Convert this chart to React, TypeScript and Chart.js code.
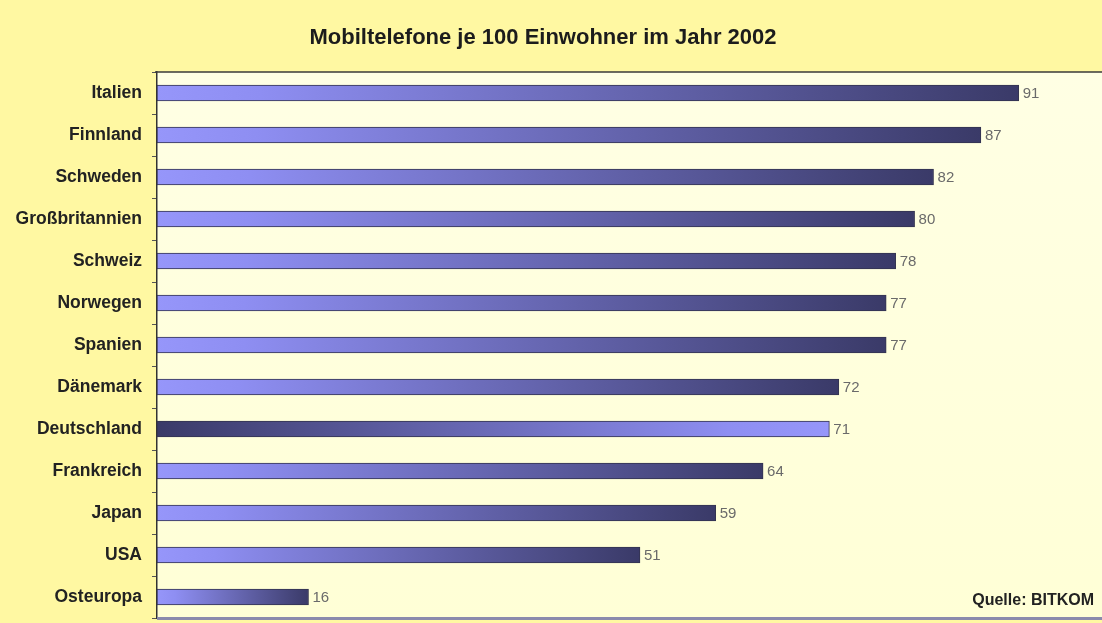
import React, { useEffect, useRef } from "react";
import { Chart, registerables } from "chart.js";

Chart.register(...registerables);

const categories = [
  "Italien",
  "Finnland",
  "Schweden",
  "Großbritannien",
  "Schweiz",
  "Norwegen",
  "Spanien",
  "Dänemark",
  "Deutschland",
  "Frankreich",
  "Japan",
  "USA",
  "Osteuropa",
];
const values = [91, 87, 82, 80, 78, 77, 77, 72, 71, 64, 59, 51, 16];
const highlighted = ["Deutschland"];
const titleText = "Mobiltelefone je 100 Einwohner im Jahr 2002";
const sourceText = "Quelle: BITKOM";

const FONT = "'Liberation Sans', Arial, sans-serif";
const OUTER_BG = "#FFF8A2";
const INNER_BG = "#FFFFD6";
const LIGHT = "#9696FA";
const DARK = "#3A3A68";

export default function App() {
  const ref = useRef<HTMLCanvasElement | null>(null);

  useEffect(() => {
    if (!ref.current) return;

    const decor = {
      id: "decor",
      beforeDraw(chart: any) {
        const { ctx, chartArea, width, height } = chart;
        ctx.save();
        ctx.fillStyle = OUTER_BG;
        ctx.fillRect(0, 0, width, height);
        const g = ctx.createLinearGradient(0, chartArea.top, 0, chartArea.bottom);
        g.addColorStop(0, "#FFFFE4");
        g.addColorStop(1, INNER_BG);
        ctx.fillStyle = g;
        ctx.fillRect(chartArea.left, chartArea.top, chartArea.right - chartArea.left, chartArea.bottom - chartArea.top);
        // title
        ctx.fillStyle = "#1c1c1c";
        ctx.font = `bold 22px ${FONT}`;
        ctx.textAlign = "center";
        ctx.textBaseline = "middle";
        ctx.fillText(titleText, 543, 38);
        ctx.restore();
      },
      afterDatasetsDraw(chart: any) {
        const { ctx, chartArea } = chart;
        const meta = chart.getDatasetMeta(0);
        ctx.save();
        ctx.font = `15px ${FONT}`;
        ctx.fillStyle = "#6a6a6a";
        ctx.textAlign = "left";
        ctx.textBaseline = "middle";
        meta.data.forEach((el: any, i: number) => {
          ctx.fillText(String(values[i]), el.x + 4, el.y + 1);
        });
        // top border
        ctx.strokeStyle = "#3a3a3a";
        ctx.lineWidth = 1.5;
        ctx.beginPath();
        ctx.moveTo(chartArea.left - 2, chartArea.top);
        ctx.lineTo(chartArea.right, chartArea.top);
        ctx.stroke();
        // bottom border
        ctx.strokeStyle = "#8a8aac";
        ctx.lineWidth = 3;
        ctx.beginPath();
        ctx.moveTo(chartArea.left, chartArea.bottom + 0.5);
        ctx.lineTo(chartArea.right, chartArea.bottom + 0.5);
        ctx.stroke();
        // source
        ctx.font = `bold 16px ${FONT}`;
        ctx.fillStyle = "#222";
        ctx.textAlign = "right";
        ctx.fillText(sourceText, 1094, 601);
        ctx.restore();
      },
    };

    const chart = new Chart(ref.current, {
      type: "bar",
      data: {
        labels: categories,
        datasets: [
          {
            data: values,
            barThickness: 16,
            borderWidth: 1,
            borderColor: "#33334f",
            borderSkipped: false,
            backgroundColor: (c: any) => {
              const ch = c.chart;
              const xs = ch.scales && ch.scales.x;
              if (!ch.chartArea || !xs) return LIGHT;
              const i = c.dataIndex;
              const x0 = xs.getPixelForValue(0);
              const x1 = xs.getPixelForValue(values[i]);
              const g = ch.ctx.createLinearGradient(x0, 0, x1, 0);
              if (highlighted.includes(categories[i])) {
                g.addColorStop(0, DARK);
                g.addColorStop(0.85, "#8E8EF2");
                g.addColorStop(1, LIGHT);
              } else {
                g.addColorStop(0, LIGHT);
                g.addColorStop(0.12, "#8E8EF2");
                g.addColorStop(1, DARK);
              }
              return g;
            },
          },
        ],
      },
      options: {
        indexAxis: "y",
        responsive: true,
        maintainAspectRatio: false,
        animation: false,
        devicePixelRatio: 1,
        layout: { padding: { top: 72, bottom: 5, left: 0, right: 2 } },
        plugins: {
          legend: { display: false },
          tooltip: { enabled: false },
          title: { display: false },
        },
        scales: {
          x: {
            display: false,
            min: 0,
            max: 100,
          },
          y: {
            afterFit: (s: any) => {
              s.width = 157;
              s.paddingTop = 0;
              s.paddingBottom = 0;
            },
            grid: {
              display: true,
              drawOnChartArea: false,
              drawTicks: true,
              tickLength: 5,
              color: "#555",
              lineWidth: 1,
            },
            border: { display: true, color: "#333", width: 1.5 },
            ticks: {
              color: "#222",
              padding: 10,
              font: { family: FONT, size: 17.5, weight: "bold" },
            },
          },
        },
      },
      plugins: [decor],
    } as any);

    return () => chart.destroy();
  }, []);

  return (
    <div style={{ position: "fixed", left: 0, top: 0, width: 1102, height: 623, overflow: "hidden", background: OUTER_BG }}>
      <div style={{ position: "relative", width: 1106, height: 623 }}>
        <canvas ref={ref} />
      </div>
    </div>
  );
}
